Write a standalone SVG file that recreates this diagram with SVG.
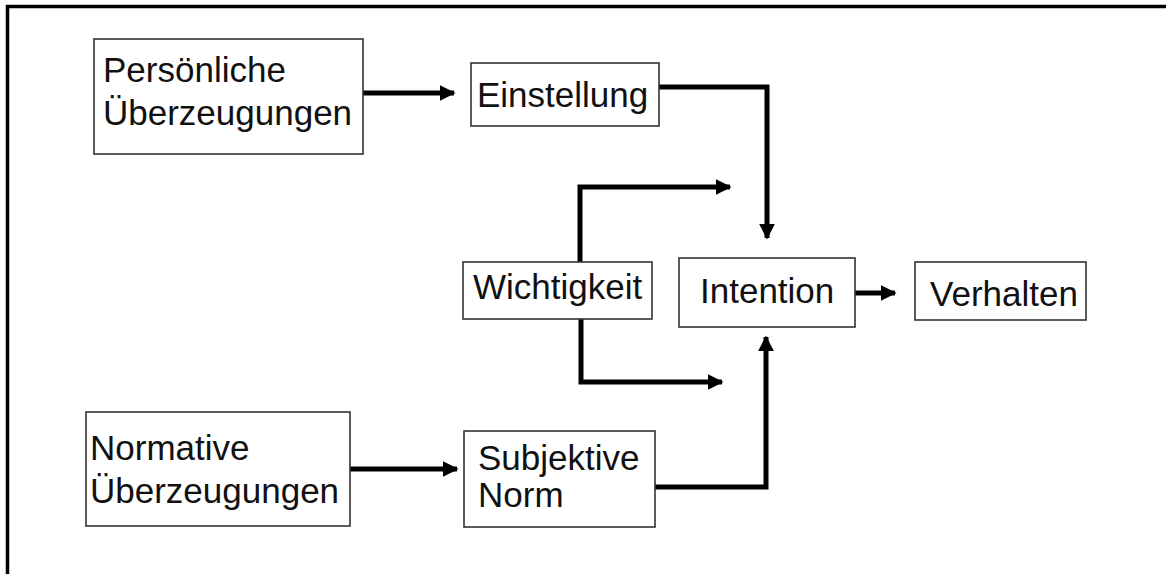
<svg xmlns="http://www.w3.org/2000/svg" width="1166" height="574" viewBox="0 0 1166 574">
<style>
.box{fill:#fff;stroke:#333;stroke-width:1.6}
.t{font-family:"Liberation Sans",Arial,sans-serif;font-size:35px;fill:#111}
.c{fill:none;stroke:#000;stroke-width:5}
</style>
<defs>
<marker id="ah" viewBox="0 0 10 10" refX="9" refY="5" markerWidth="3.2" markerHeight="3.2" orient="auto" markerUnits="strokeWidth">
<path d="M0,0 L10,5 L0,10 z" fill="#000"/>
</marker>
</defs>
<rect width="1166" height="574" fill="#fff"/>
<g id="frame">
<line x1="6" y1="6.5" x2="1166" y2="6.5" stroke="#000" stroke-width="3.5"/>
<line x1="7.5" y1="5" x2="7.5" y2="574" stroke="#000" stroke-width="3.5"/>
</g>
<g id="connectors">
<path class="c" d="M363,93 H454" marker-end="url(#ah)"/>
<path class="c" d="M659,87 H767 V238" marker-end="url(#ah)"/>
<path class="c" d="M580,262 V187 H730" marker-end="url(#ah)"/>
<path class="c" d="M581,319 V382 H722" marker-end="url(#ah)"/>
<path class="c" d="M350,469 H457" marker-end="url(#ah)"/>
<path class="c" d="M655,487 H766 V337" marker-end="url(#ah)"/>
<path class="c" d="M855,293 H895" marker-end="url(#ah)"/>
</g>
<g id="persoenliche">
<rect class="box" x="94" y="39" width="269" height="115"/>
<text class="t" x="103" y="82">Persönliche</text>
<text class="t" x="103" y="125">Überzeugungen</text>
</g>
<g id="einstellung">
<rect class="box" x="471" y="63" width="188" height="63"/>
<text class="t" x="477" y="107">Einstellung</text>
</g>
<g id="wichtigkeit">
<rect class="box" x="463" y="262" width="189" height="57"/>
<text class="t" x="473" y="299">Wichtigkeit</text>
</g>
<g id="intention">
<rect class="box" x="679" y="258" width="176" height="69"/>
<text class="t" x="700" y="303">Intention</text>
</g>
<g id="verhalten">
<rect class="box" x="915" y="262" width="171" height="58"/>
<text class="t" x="930" y="306">Verhalten</text>
</g>
<g id="normative">
<rect class="box" x="86" y="412" width="264" height="114"/>
<text class="t" x="90" y="460">Normative</text>
<text class="t" x="90" y="503">Überzeugungen</text>
</g>
<g id="subjektive">
<rect class="box" x="464" y="431" width="191" height="96"/>
<text class="t" x="478" y="470">Subjektive</text>
<text class="t" x="478" y="507">Norm</text>
</g>
</svg>
